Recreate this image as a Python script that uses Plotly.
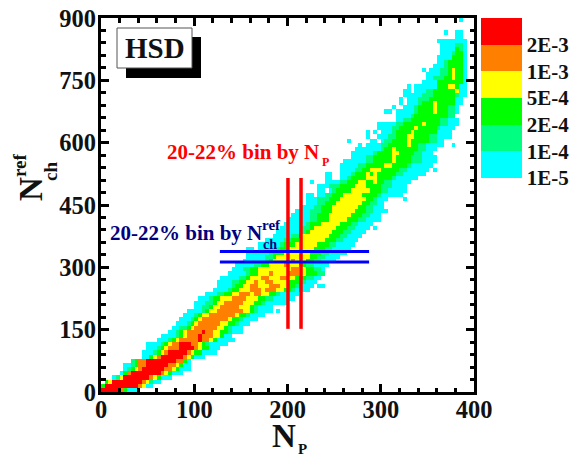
import plotly.graph_objects as go

# Histogram: row index -> (first column, density class per column)
# 0 = empty, 1..6 = colour classes. Columns are 4 N_P wide, rows 10 N_ch wide.
X_BIN = 4
Y_BIN = 10
N_COLS = 100
N_ROWS = 90
ROWS = {
 0: (0, "6666653111"),
 1: (0, "36666666665411"),
 2: (1, "34"+"66666666"+"5"+"4"+"2"+"11"),
 3: (3, "1"+"2"+"4"+"6666666"+"5"+"4"+"3"+"111"),
 4: (5, "1"+"3"+"5"+"66666666"+"5"+"4"+"3"+"111"),
 5: (6, "1"+"2"+"3"+"4"+"5"+"666666"+"55"+"4"+"3"+"111"),
 6: (6, "11"+"2"+"3"+"55"+"666666"+"55"+"4"+"3"+"11"),
 7: (8, "23"+"55"+"66666666"+"55"+"3"+"1"),
 8: (11, "11"+"3"+"4"+"5"+"666666"+"5"+"4"+"3"+"111"),
 9: (11, "111"+"2"+"3"+"4"+"5"+"66666"+"5"+"4"+"33"+"1111"),
 10: (12, "111"+"2"+"3"+"4"+"555"+"6666"+"5"+"4"+"33"+"111"),
 11: (12, "1111"+"2"+"3"+"4"+"55"+"666"+"55"+"4"+"3"+"2"+"11111"),
 12: (15, "111"+"2"+"3"+"4"+"55555"+"6"+"55"+"4"+"3"+"11111"),
 13: (16, "1111"+"2"+"3"+"4"+"555"+"6"+"555"+"44"+"3"+"11"),
 14: (18, "11"+"2"+"3"+"4"+"5555"+"6"+"55"+"44"+"33"+"2"+"111"),
 15: (19, "11"+"22"+"3"+"4"+"555555"+"44"+"3"+"2"+"111"),
 16: (20, "111"+"2"+"3"+"4"+"555555"+"44"+"33"+"2"+"111"),
 17: (21, "111"+"2"+"3"+"4"+"5555555"+"4"+"33"+"2"+"1111"),
 18: (22, "111"+"2"+"3"+"44"+"5555555"+"4"+"33"+"2"+"1111"),
 19: (23, "1111"+"2"+"3"+"44"+"5555555"+"44"+"3"+"2"+"1111"+"0"+"1"),
 20: (25, "11"+"22"+"3"+"44"+"55555"+"444"+"3"+"2"+"1111"),
 21: (25, "111"+"22"+"3"+"44"+"55555"+"444"+"33"+"2"+"111111"),
 22: (26, "111"+"2"+"33"+"444"+"5555"+"444"+"33"+"22"+"111111"),
 23: (28, "111"+"22"+"33"+"44"+"555"+"4"+"55"+"44"+"33"+"2"+"11111"),
 24: (30, "1111"+"2"+"33"+"444"+"555"+"4"+"555"+"44"+"33"+"2"+"1111"),
 25: (31, "1111"+"2"+"33"+"44"+"55"+"444"+"555"+"44"+"33"+"22"+"111"+"0"+"11"),
 26: (31, "1111"+"22"+"33"+"44"+"5"+"44"+"55"+"4444"+"333"+"22"+"111"),
 27: (32, "11111"+"22"+"3"+"444"+"55"+"444"+"55"+"44"+"333"+"22"+"11"),
 28: (34, "11111"+"2"+"33"+"444"+"5"+"4444"+"555"+"44"+"333"+"22"),
 29: (35, "111"+"22"+"33"+"444444444"+"55"+"44"+"33"+"22"+"1"),
 30: (36, "11111"+"22"+"33"+"4444"+"5"+"444"+"33"+"22"+"1111"),
 31: (38, "111111"+"2"+"3"+"44444"+"5"+"444"+"33"+"22"+"1111"),
 32: (39, "11111"+"22"+"3"+"444444"+"5"+"44"+"33"+"22"+"1111"),
 33: (39, "111111"+"2"+"333"+"4444444"+"333"+"22"+"11111"),
 34: (39, "11"+"0"+"1"+"1111"+"2"+"33"+"4444444"+"333"+"22"+"11111"),
 35: (42, "111111"+"2"+"333"+"444444"+"333"+"22"+"11111"),
 36: (44, "11111"+"22"+"33"+"4444444"+"333"+"22"+"1111"),
 37: (46, "11111"+"22"+"3"+"4444444"+"333"+"22"+"1111"),
 38: (47, "111111"+"22"+"3"+"444444"+"333"+"22"+"1111"),
 39: (48, "111111"+"22"+"3"+"444444"+"333"+"22"+"1111"+"0"+"1"),
 40: (49, "111111"+"2"+"333"+"44444"+"333"+"22"+"1111"),
 41: (50, "111111"+"22"+"333"+"44444"+"333"+"22"+"1111"),
 42: (51, "11111"+"22"+"333"+"444444"+"333"+"22"+"111"),
 43: (52, "1111"+"222"+"333"+"444444"+"333"+"22"+"1111"),
 44: (54, "111"+"22"+"333"+"4444444"+"33"+"22"+"111"),
 45: (55, "111"+"22"+"333"+"4444444"+"33"+"22"+"11"),
 46: (55, "111"+"222"+"333"+"4444444"+"33"+"2"+"111"+"0000"+"1"),
 47: (55, "11"+"0"+"11"+"22"+"333"+"44444"+"3333"+"2"+"111111"),
 48: (58, "11"+"0"+"1"+"2"+"3333"+"44444"+"333"+"22"+"11111"),
 49: (58, "111"+"222"+"3333"+"444"+"3333"+"222"+"1111"),
 50: (56, "1"+"000"+"1111"+"22"+"333"+"44"+"33"+"4"+"33"+"22"+"11111"),
 51: (60, "11"+"00"+"11"+"2"+"3333"+"444"+"3333"+"2"+"111111"),
 52: (60, "11"+"00"+"111"+"2"+"333"+"4"+"3"+"4"+"33333"+"22"+"111111"),
 53: (64, "1111"+"22"+"33"+"444"+"33333"+"22"+"111111"+"0"+"1"),
 54: (64, "11111"+"22"+"33333"+"44"+"3333"+"2"+"111111"),
 55: (65, "111111"+"22"+"33333"+"4"+"3333"+"222"+"1111"),
 56: (67, "1111"+"22"+"33333"+"4"+"3333"+"222"+"1111"),
 57: (67, "111111"+"2"+"3333"+"44"+"3333"+"22"+"111"),
 58: (68, "1111111"+"2"+"33"+"4"+"333333"+"22"+"111"),
 59: (69, "1"+"0"+"1111"+"22"+"33333"+"4"+"33"+"22"+"11111"+"00"+"1"),
 60: (66, "1"+"00000"+"11"+"0"+"1"+"22"+"3333"+"4"+"33333"+"22"+"11"),
 61: (71, "1"+"00"+"111"+"22"+"333"+"44"+"3333"+"22"+"1111"),
 62: (71, "1"+"0"+"1"+"0"+"111"+"2"+"3333"+"4"+"333333"+"1111"),
 63: (74, "1111"+"22"+"3333"+"4"+"33333"+"2"+"1111"),
 64: (74, "11111"+"22"+"33333"+"4"+"3333"+"22"+"111"),
 65: (79, "11"+"22"+"33333333"+"22"+"111"),
 66: (79, "1111"+"2"+"333333333"+"22"),
 67: (76, "11"+"0"+"11111"+"2"+"3333"+"4"+"333"+"22"+"1"),
 68: (78, "1"+"00"+"111"+"2"+"3333"+"4"+"333"+"22"+"1"),
 69: (80, "10111"+"2"+"333"+"4"+"33333"+"11"),
 70: (80, "10111"+"222"+"3333333"+"11"),
 71: (81, "11111"+"222"+"333333"+"2"+"11"),
 72: (81, "11"+"0"+"111"+"22"+"333333"+"4"+"11"),
 73: (82, "10111111"+"333"+"44"+"3"+"11"),
 74: (86, "1111"+"3333333"+"1"),
 75: (87, "11"+"222"+"33"+"4"+"33"+"1"),
 76: (87, "1111"+"22"+"3"+"4"+"33"+"1"),
 77: (86, "101112234331"),
 78: (89, "111233331"),
 79: (90, "11233331"),
 80: (90, "11113331"),
 81: (91, "1112331"),
 82: (91, "1111321"),
 83: (91, "1111221"),
 84: (90, "11111111"),
 85: (95, "11"),
 86: (92, "10011"),
 89: (96, "1"),
}
CLASS_COLORS = ["#00ffff", "#00ff80", "#00ff00", "#ffff00", "#ff8000", "#ff0000"]
CLASS_LABELS = ["1E-5", "1E-4", "2E-4", "5E-4", "1E-3", "2E-3"]

X_TICKS = [0, 100, 200, 300, 400]
Y_TICKS = [0, 150, 300, 450, 600, 750, 900]
NP_CUT = [200.5, 214.5]
NP_CUT_RANGE = [152, 515]
NCH_CUT = [313, 338]
NCH_CUT_RANGE = [127.5, 287.5]

FONT = "Liberation Serif"
W, H = 571, 457
L, R, T, B = 101, 474, 18, 392


def px(x):
    return (x - L) / (R - L)


def py(y):
    return (B - y) / (B - T)


z = [[None] * N_COLS for _ in range(N_ROWS)]
for r, (start, cells) in ROWS.items():
    for i, ch in enumerate(cells):
        if ch != "0":
            z[r][start + i] = int(ch) - 0.5

n = len(CLASS_COLORS)
scale = []
for i, c in enumerate(CLASS_COLORS):
    scale += [[i / n, c], [(i + 1) / n, c]]

fig = go.Figure()
fig.add_trace(go.Heatmap(
    x=[X_BIN * c + X_BIN / 2 for c in range(N_COLS)],
    y=[Y_BIN * r + Y_BIN / 2 for r in range(N_ROWS)],
    z=z, zmin=0, zmax=n, colorscale=scale, hoverongaps=False,
    colorbar=dict(
        x=px(481), xanchor="left", y=1, yanchor="top",
        thickness=41, thicknessmode="pixels", len=160 / (B - T), lenmode="fraction",
        outlinewidth=0, borderwidth=0, ticks="", xpad=0, ypad=0,
        tickvals=list(range(n)), ticktext=CLASS_LABELS,
        tickfont=dict(family=FONT, size=21, color="#111111", weight=700),
    ),
))
for v in NP_CUT:
    fig.add_trace(go.Scatter(x=[v, v], y=NP_CUT_RANGE, mode="lines",
                             line=dict(color="#ff0000", width=3.5), showlegend=False))
for v in NCH_CUT:
    fig.add_trace(go.Scatter(x=NCH_CUT_RANGE, y=[v, v], mode="lines",
                             line=dict(color="#0000ff", width=3), showlegend=False))

axis = dict(
    showgrid=False, zeroline=False, showline=True, linecolor="black", linewidth=3,
    mirror="allticks", ticks="inside", ticklen=8, tickwidth=2.5, tickcolor="black",
    tickfont=dict(family=FONT, size=24.5, color="#111111", weight=700),
)
fig.update_layout(
    width=W, height=H, margin=dict(l=L, r=W - R, t=T, b=H - B, autoexpand=False),
    paper_bgcolor="white", plot_bgcolor="white", showlegend=False,
    xaxis=dict(axis, range=[0, 400], tickvals=X_TICKS, ticklabelstandoff=-6,
               minor=dict(dtick=20, ticks="inside", ticklen=4.5, tickwidth=2.5, tickcolor="black")),
    yaxis=dict(axis, range=[0, 900], tickvals=Y_TICKS, ticklabelstandoff=-3,
               minor=dict(dtick=30, ticks="inside", ticklen=4.5, tickwidth=2.5, tickcolor="black")),
    shapes=[
        dict(type="rect", xref="paper", yref="paper", x0=px(126), x1=px(201), y0=py(78), y1=py(37),
             fillcolor="black", line=dict(width=0)),
        dict(type="rect", xref="paper", yref="paper", x0=px(117), x1=px(192), y0=py(68), y1=py(28),
             fillcolor="white", line=dict(color="#555555", width=1)),
    ],
)


def label(text, x, y, size, color="black", angle=0, anchor="center"):
    fig.add_annotation(text=text, xref="paper", yref="paper", x=px(x), y=py(y),
                       xanchor=anchor, yanchor="middle", showarrow=False, textangle=angle,
                       font=dict(family=FONT, size=size, color=color, weight=700))


label("HSD", 154.5, 48, 29, "#111111")
label("20-22% bin by N", 165, 152, 21, "#ff0000", anchor="left")
label("P", 325, 162, 12, "#ff0000")
label("20-22% bin by N", 108, 233, 21, "#000080", anchor="left")
label("ref", 271, 225, 15, "#000080")
label("ch", 270, 244, 14, "#000080")
label("N", 284, 436, 33, "#111111")
label("P", 302, 449, 15, "#111111")
label("N", 31, 189, 33, "#111111", angle=-90)
label("ref", 19, 165, 19, "#111111", angle=-90)
label("ch", 50, 172, 19, "#111111", angle=-90)

fig.write_html("out.html", config={"displayModeBar": False},
               post_script="document.body.style.margin='0';document.body.style.overflow='hidden';")
